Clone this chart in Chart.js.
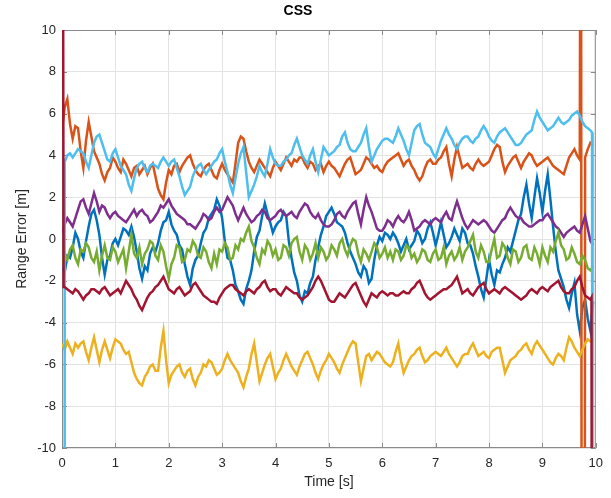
<!DOCTYPE html>
<html>
<head>
<meta charset="utf-8">
<script src="https://cdn.jsdelivr.net/npm/chart.js@4.4.1/dist/chart.umd.min.js"></script>
<style>
  body { margin: 0; background: #fff; }
  #wrap { width: 611px; height: 498px; }
</style>
</head>
<body>
<div id="wrap"><canvas id="range-error-chart" width="611" height="498"></canvas></div>
<script>
// sample times [s], one row per second
const time = [
  0, 0.05, 0.1, 0.15, 0.2, 0.25, 0.3, 0.35, 0.4, 0.45, 0.5, 0.55, 0.6, 0.65, 0.7, 0.75, 0.8, 0.85, 0.9, 0.95,
  1, 1.05, 1.1, 1.15, 1.2, 1.25, 1.3, 1.35, 1.4, 1.45, 1.5, 1.55, 1.6, 1.65, 1.7, 1.75, 1.8, 1.85, 1.9, 1.95,
  2, 2.05, 2.1, 2.15, 2.2, 2.25, 2.3, 2.35, 2.4, 2.45, 2.5, 2.55, 2.6, 2.65, 2.7, 2.75, 2.8, 2.85, 2.9, 2.95,
  3, 3.05, 3.1, 3.15, 3.2, 3.25, 3.3, 3.35, 3.4, 3.45, 3.5, 3.55, 3.6, 3.65, 3.7, 3.75, 3.8, 3.85, 3.9, 3.95,
  4, 4.05, 4.1, 4.15, 4.2, 4.25, 4.3, 4.35, 4.4, 4.45, 4.5, 4.55, 4.6, 4.65, 4.7, 4.75, 4.8, 4.85, 4.9, 4.95,
  5, 5.05, 5.1, 5.15, 5.2, 5.25, 5.3, 5.35, 5.4, 5.45, 5.5, 5.55, 5.6, 5.65, 5.7, 5.75, 5.8, 5.85, 5.9, 5.95,
  6, 6.05, 6.1, 6.15, 6.2, 6.25, 6.3, 6.35, 6.4, 6.45, 6.5, 6.55, 6.6, 6.65, 6.7, 6.75, 6.8, 6.85, 6.9, 6.95,
  7, 7.05, 7.1, 7.15, 7.2, 7.25, 7.3, 7.35, 7.4, 7.45, 7.5, 7.55, 7.6, 7.65, 7.7, 7.75, 7.8, 7.85, 7.9, 7.95,
  8, 8.05, 8.1, 8.15, 8.2, 8.25, 8.3, 8.35, 8.4, 8.45, 8.5, 8.55, 8.6, 8.65, 8.7, 8.75, 8.8, 8.85, 8.9, 8.95,
  9, 9.05, 9.1, 9.15, 9.2, 9.25, 9.3, 9.35, 9.4, 9.45, 9.5, 9.55, 9.6, 9.65, 9.7, 9.75, 9.8, 9.85, 9.9, 9.95,
  10
];

// range error per track [m]
const blueErr = [
  -1.4, -1.6, -0.8, -0.9, -0.4, 0.3, 0.0, -0.6, -0.9, -0.1, 0.6, 1.2, 1.4, 0.9, 0.2, -0.9, -1.7, -1.0, -0.8, -0.2,
  0.0, -0.3, 0.1, 0.5, 0.4, 0.2, 0.6, 0.1, -0.6, -1.4, -1.9, -1.3, -1.5, -0.7, -0.4, -0.6, -0.2, 0.4, 0.8, 0.9,
  1.3, 0.7, 0.4, 0.2, -0.3, -0.5, -1.2, -1.8, -2.2, -1.4, -1.0, -0.8, -0.2, 0.3, 0.5, 1.0, 1.2, 1.4, 1.9, 1.6,
  1.0, -0.1, -0.9, -1.0, -1.5, -2.2, -2.5, -2.9, -3.1, -2.4, -2.0, -1.5, -0.6, 0.1, 0.4, 1.1, 1.7, 1.2, 0.8, 0.3,
  0.6, 0.8, 0.9, 1.3, 1.1, -0.1, -0.9, -1.6, -2.0, -2.7, -3.0, -2.5, -2.6, -2.1, -1.8, -1.0, -0.4, 0.2, 0.6, 1.1,
  1.3, 1.5, 1.2, 0.8, 0.7, 0.6, 0.3, -0.2, -0.6, -0.9, -1.2, -1.6, -1.8, -1.3, -1.5, -2.1, -1.9, -1.0, -0.3, 0.1,
  -0.1, 0.3, 0.2, 0.0, 0.3, 0.1, -0.2, -0.6, -0.3, 0.0, -0.5, -0.3, -0.1, 0.4, 0.2, -0.2, 0.0, 0.5, 0.8, 0.3,
  -0.3, 0.2, 0.8, 0.2, -0.4, -0.2, 0.1, 0.5, 0.2, -0.1, 0.5, 0.3, -0.2, -0.3, -0.7, -1.3, -1.8, -2.4, -2.8, -1.9,
  -1.0, -1.7, -2.2, -1.5, -1.6, -1.2, -0.9, -0.4, -0.6, -0.1, 0.4, 0.9, 1.2, 2.0, 2.6, 1.7, 1.0, 2.0, 2.9, 2.2,
  1.3, 2.3, 3.1, 1.9, 0.6, -0.6, -1.5, -1.9, -2.3, -2.9, -3.3, -2.6, -2.1, -3.6, -4.4, -3.3, -2.9, -3.8, -4.4, -3.0,
  null
];
const orangeErr = [
  5.2, 6.3, 6.7, 5.5, 4.8, 5.4, 5.3, 4.2, 3.4, 4.7, 5.6, 4.9, 4.2, 3.9, 3.6, 3.1, 2.8, 3.2, 3.4, 3.9,
  3.7, 3.4, 3.2, 3.8, 3.6, 3.3, 3.0, 3.4, 3.5, 3.1, 3.3, 3.5, 3.1, 3.4, 3.6, 3.0, 2.4, 2.1, 1.9, 2.7,
  3.3, 3.1, 3.5, 3.6, 3.2, 3.5, 3.7, 3.9, 4.0, 3.6, 3.3, 3.1, 3.0, 3.3, 3.5, 3.6, 3.3, 3.0, 2.9, 3.3,
  3.6, 3.3, 3.1, 2.9, 2.7, 3.6, 4.6, 4.9, 4.8, 4.2, 3.7, 3.4, 3.2, 3.5, 3.8, 3.6, 3.4, 3.2, 3.0, 3.4,
  3.7, 3.5, 3.3, 3.6, 3.9, 3.7, 3.5, 3.8, 3.7, 3.9, 3.9, 3.6, 3.4, 3.7, 3.6, 3.3, 3.5, 3.6, 3.2, 3.5,
  3.7, 3.5, 3.4, 3.2, 3.0, 3.3, 3.6, 3.8, 3.9, 3.5, 3.1, 3.2, 3.3, 3.6, 3.9, 3.8, 3.6, 3.4, 3.5, 3.3,
  3.2, 3.5, 3.7, 3.8, 3.9, 4.0, 4.1, 3.8, 3.5, 3.7, 3.8, 3.5, 3.3, 3.0, 2.8, 3.0, 3.4, 3.7, 3.8, 3.6,
  3.6, 3.8, 3.9, 4.2, 4.4, 3.6, 3.0, 3.8, 4.4, 3.9, 3.4, 3.5, 3.6, 3.4, 3.3, 3.6, 3.8, 3.6, 3.5, 3.6,
  3.7, 4.0, 4.3, 4.5, 4.4, 3.7, 3.2, 3.5, 3.7, 3.9, 4.0, 3.7, 3.4, 3.7, 3.9, 4.1, 4.0, 3.7, 3.5, 3.6,
  3.7, 3.8, 3.9, 3.7, 3.5, 3.4, 3.3, 3.2, 3.1, 3.5, 3.9, 4.1, 4.3, 4.0, 3.8, null, 3.9, 4.3, 4.6, 4.5,
  null
];
const yellowErr = [
  -5.0, -5.3, -4.9, -5.2, -5.5, -5.0, -5.2, -5.0, -4.9, -5.4, -5.8, -5.2, -4.7, -5.3, -5.9, -5.3, -4.9, -5.3, -5.7, -5.2,
  -4.8, -4.9, -5.0, -5.3, -5.5, -5.4, -5.9, -6.4, -6.7, -6.9, -7.0, -6.6, -6.4, -6.1, -6.0, -6.3, -6.3, -5.2, -4.4, -5.8,
  -6.9, -6.5, -6.3, -6.1, -6.0, -6.4, -6.6, -6.3, -6.2, -6.7, -7.0, -6.6, -6.4, -6.0, -6.1, -5.8, -5.9, -6.2, -6.5, -6.4,
  -6.2, -5.8, -5.5, -5.8, -6.0, -6.2, -6.4, -6.8, -7.1, -6.6, -6.2, -5.5, -5.0, -5.9, -6.8, -6.4, -6.0, -5.7, -5.5, -6.1,
  -6.7, -6.4, -6.2, -5.8, -5.5, -5.8, -6.1, -6.3, -6.5, -6.1, -5.8, -5.5, -5.4, -5.7, -6.0, -6.4, -6.7, -6.3, -6.0, -5.8,
  -5.5, -5.7, -5.9, -6.2, -6.4, -6.0, -5.7, -5.4, -5.1, -4.9, -5.0, -5.9, -6.8, -6.2, -5.6, -5.5, -5.8, -5.6, -5.4, -5.5,
  -5.7, -5.9, -6.0, -6.1, -5.9, -5.4, -5.0, -5.8, -6.4, -6.1, -5.8, -5.6, -5.5, -5.3, -5.2, -5.6, -5.9, -5.8, -5.6, -5.5,
  -5.4, -5.5, -5.6, -5.4, -5.2, -5.5, -5.7, -5.9, -6.1, -5.9, -5.6, -5.5, -5.5, -5.2, -5.0, -5.3, -5.6, -5.5, -5.4, -5.6,
  -5.7, -5.4, -5.3, -5.2, -5.2, -5.8, -6.4, -6.1, -5.8, -5.7, -5.6, -5.4, -5.3, -5.1, -5.0, -5.3, -5.5, -5.1, -4.9, -5.1,
  -5.3, -5.5, -5.7, -5.9, -6.0, -5.7, -5.5, -5.6, -5.8, -5.2, -4.7, -4.9, -5.2, -5.4, -5.6, -5.3, -5.0, -4.8, -4.9, -4.8,
  null
];
const purpleErr = [
  0.3, 0.7, 1.0, 0.8, 0.6, 1.0, 1.4, 1.8, 1.9, 1.5, 1.2, 1.7, 2.2, 1.8, 1.3, 1.6, 1.5, 1.2, 1.0, 1.2,
  1.3, 1.1, 1.0, 0.9, 0.8, 1.0, 1.2, 1.4, 1.1, 1.3, 1.4, 1.2, 1.1, 0.8, 0.9, 1.1, 1.3, 1.6, 1.5, 1.7,
  1.9, 1.6, 1.4, 1.2, 1.1, 1.0, 0.9, 0.7, 0.7, 0.6, 0.5, 0.7, 0.9, 1.2, 1.1, 0.9, 1.0, 1.3, 1.5, 1.3,
  1.4, 1.7, 2.0, 1.8, 1.6, 1.2, 0.9, 1.2, 1.5, 1.2, 1.0, 0.8, 0.9, 1.1, 1.2, 1.4, 1.3, 1.0, 0.9, 1.0,
  1.1, 1.3, 1.4, 1.2, 1.1, 1.2, 1.3, 1.1, 1.0, 1.3, 1.5, 1.7, 1.6, 1.3, 1.1, 1.0, 1.2, 0.9, 0.7, 0.6,
  0.6, 0.7, 0.9, 1.2, 1.3, 1.1, 1.0, 1.3, 1.5, 1.7, 1.8, 1.2, 0.7, 1.4, 2.0, 1.6, 1.3, 0.9, 0.5, 0.4,
  0.4, 0.6, 0.9, 0.8, 0.6, 0.9, 1.1, 0.9, 0.8, 1.0, 1.3, 0.9, 0.4, 0.5, 0.6, 0.8, 0.9, 0.8, 0.7, 0.9,
  1.0, 0.9, 0.8, 1.1, 1.3, 1.0, 0.9, 1.4, 1.8, 1.4, 1.0, 0.7, 0.5, 0.7, 0.9, 0.8, 0.7, 0.8, 0.9, 0.8,
  0.6, 0.4, 0.3, 0.5, 0.7, 0.9, 1.0, 1.3, 1.5, 1.3, 1.1, 1.0, 1.0, 0.8, 0.7, 0.6, 0.6, 0.7, 0.8, 0.9,
  0.9, 1.1, 1.2, 1.0, 0.8, 0.6, 0.5, 0.3, 0.1, 0.3, 0.4, 0.5, 0.6, 0.4, 0.3, 0.7, 1.1, 0.5, -0.1, -0.3,
  null
];
const greenErr = [
  -1.2, -0.7, -1.0, -0.5, -0.3, -0.9, -1.2, -0.5, -0.6, -0.2, -0.4, -0.9, -1.1, -0.6, -1.5, -0.8, -0.3, -0.9, -1.0, -0.4,
  -0.6, -1.1, -0.8, -0.5, -1.4, -0.6, 0.2, -0.7, -0.9, -0.4, -1.2, -0.7, -0.5, -0.1, -0.2, -0.8, -1.0, -0.3, -0.6, -1.3,
  -1.9, -1.2, -0.9, -0.3, -0.4, -1.1, -1.0, -0.5, -0.6, -0.1, -0.3, -0.8, -0.9, -0.4, -0.6, -1.1, -1.4, -0.7, -1.2, -0.5,
  -0.6, -0.2, -0.4, -1.0, -0.9, -0.3, -0.5, 0.0, -0.1, 0.3, 0.6, -0.1, -0.4, -0.9, -1.2, -0.5, -0.7, -0.1, -0.3, -0.8,
  -0.5, -1.0, -0.9, -0.3, -0.4, -0.8, -0.2, 0.0, 0.1, -0.6, -1.0, -0.3, -0.5, -1.0, -0.7, -0.2, -0.9, -0.4, -0.6, -1.0,
  -0.8, -0.3, -0.5, -0.8, -0.2, 0.0, -0.5, -0.8, -0.3, 0.0, -0.1, -0.7, -1.1, -0.5, -0.7, -1.0, -0.6, -0.2, -0.4, -0.9,
  -0.7, -0.4, -0.9, -0.6, -1.0, -0.5, -0.6, -1.0, -0.8, -0.3, -0.4, -0.9, -0.7, -1.1, -0.9, -0.5, -0.6, -1.0, -1.1, -0.7,
  -0.5, -1.0, -0.9, -0.4, -1.2, -0.8, -0.6, -1.0, -0.8, -0.4, -1.0, -0.6, -0.4, -0.1, 0.2, -0.6, -0.9, -0.3, -0.6, -1.1,
  -1.1, -0.5, 0.0, -0.9, -0.8, -0.2, -0.4, -0.9, -1.2, -0.5, -0.6, -1.1, -0.9, -0.4, -0.3, -0.9, -1.0, -0.4, -0.7, -1.2,
  -0.4, -0.8, -1.1, -0.4, -0.6, -0.1, 0.3, -0.3, -0.5, -1.0, -0.9, -0.4, -0.7, -1.1, -1.2, -0.8, -1.0, -1.4, -1.5, -1.3,
  null
];
const lightBlueErr = [
  null, 3.7, 4.0, 4.1, 3.9, 4.1, 4.3, 4.2, 4.1, 3.7, 3.4, 4.0, 4.6, 4.9, 5.0, 4.6, 4.2, 3.8, 3.7, 4.1,
  4.3, 3.9, 3.5, 3.3, 3.1, 2.6, 2.3, 2.9, 3.4, 3.6, 3.7, 3.4, 3.2, 3.5, 3.6, 3.5, 3.4, 3.7, 3.9, 3.7,
  3.5, 3.7, 3.8, 3.4, 3.0, 2.5, 2.1, 2.3, 2.5, 3.0, 3.3, 3.5, 3.6, 3.3, 3.1, 3.3, 3.5, 3.7, 3.8, 4.1,
  4.3, 3.7, 3.2, 2.6, 2.2, 2.9, 3.6, 4.1, 4.4, 3.2, 2.0, 2.3, 2.6, 3.0, 3.5, 3.2, 3.0, 3.6, 4.3, 3.9,
  3.6, 3.5, 3.5, 3.7, 3.8, 4.0, 4.1, 4.5, 4.8, 4.4, 4.0, 3.8, 3.6, 4.0, 4.3, 3.7, 3.2, 3.8, 4.4, 4.2,
  4.0, 4.1, 4.2, 4.4, 4.5, 4.9, 5.1, 4.6, 4.3, 4.2, 4.2, 4.4, 4.6, 5.0, 5.3, 4.4, 3.7, 4.0, 4.3, 4.5,
  4.7, 4.8, 4.8, 4.7, 4.6, 4.9, 5.3, 5.0, 4.7, 4.3, 4.0, 4.6, 5.2, 5.4, 5.5, 5.0, 4.6, 4.5, 4.4, 4.1,
  3.9, 4.3, 4.7, 5.0, 5.3, 5.0, 4.8, 4.5, 4.3, 4.6, 4.8, 4.9, 4.9, 4.7, 4.6, 4.8, 4.9, 5.2, 5.4, 5.2,
  4.9, 4.7, 4.6, 4.9, 5.1, 5.2, 5.3, 5.1, 4.9, 4.7, 4.5, 4.5, 4.6, 4.8, 5.0, 5.1, 5.2, 5.7, 6.1, 5.8,
  5.6, 5.4, 5.2, 5.3, 5.4, 5.6, 5.8, 5.6, 5.5, 5.6, 5.7, 5.9, 6.0, 6.1, 5.9, 5.6, 5.4, 5.3, 5.2, null,
  null
];
const darkRedErr = [
  null, -2.3, -2.4, -2.5, -2.6, -2.4, -2.5, -2.7, -2.9, -2.7, -2.6, -2.4, -2.4, -2.5, -2.6, -2.4, -2.3, -2.5, -2.7, -2.6,
  -2.5, -2.4, -2.6, -2.3, -2.0, -2.2, -2.4, -2.7, -2.9, -3.2, -3.4, -3.1, -2.8, -2.6, -2.5, -2.3, -2.2, -2.0, -1.8, -2.1,
  -2.4, -2.5, -2.6, -2.4, -2.3, -2.5, -2.7, -2.6, -2.5, -2.2, -2.1, -2.3, -2.5, -2.7, -2.8, -2.9, -3.0, -3.0, -3.1, -2.8,
  -2.6, -2.4, -2.3, -2.2, -2.2, -2.4, -2.5, -2.6, -2.7, -2.5, -2.4, -2.5, -2.6, -2.4, -2.3, -2.1, -2.0, -2.3, -2.5, -2.4,
  -2.4, -2.6, -2.7, -2.5, -2.3, -2.4, -2.5, -2.6, -2.6, -2.8, -2.9, -2.8, -2.7, -2.5, -2.3, -2.0, -1.8, -2.0, -2.3, -2.6,
  -2.9, -3.0, -3.0, -2.8, -2.6, -2.7, -2.8, -2.6, -2.4, -2.2, -2.1, -2.4, -2.7, -3.0, -3.2, -2.9, -2.6, -2.7, -2.8, -2.6,
  -2.5, -2.6, -2.7, -2.6, -2.6, -2.7, -2.7, -2.6, -2.5, -2.6, -2.6, -2.4, -2.3, -2.1, -2.0, -2.3, -2.6, -2.8, -2.9, -2.8,
  -2.7, -2.6, -2.5, -2.4, -2.4, -2.3, -2.2, -2.0, -1.8, -2.2, -2.6, -2.5, -2.4, -2.6, -2.7, -2.5, -2.3, -2.2, -2.1, -2.4,
  -2.6, -2.5, -2.4, -2.5, -2.6, -2.4, -2.3, -2.4, -2.5, -2.6, -2.7, -2.8, -2.9, -2.8, -2.7, -2.5, -2.4, -2.5, -2.6, -2.4,
  -2.3, -2.4, -2.5, -2.3, -2.2, -2.1, -2.0, -2.3, -2.5, -2.6, -2.6, -2.4, -2.3, -2.0, -1.8, -2.3, -2.7, -2.8, -2.9, null,
  null
];

// off-grid samples where a track jumps out of range: [time, error]
const orangeJump = [[9.72, 30], [9.74, -30], [9.79, -30]];
const lightBlueHead = [[0.04, -30]];
const lightBlueTail = [[9.93, 5.1], [9.94, -30]];
const darkRedHead = [[0.01, 30], [0.03, -2.3]];
const darkRedTail = [[9.92, -2.8], [9.93, -30]];

const yTicks = [-10, -8, -6, -4, -2, 0, 2, 4, 6, 8, 10];
const xTicks = [0, 1, 2, 3, 4, 5, 6, 7, 8, 9, 10];

// grid samples plus jump samples; a null ends a stretch so a jump stays vertical
function toPoints(values, ...extras) {
  const pts = time
    .map((t, i) => ({ x: t, y: values[i] }))
    .filter((p) => p.y !== null);
  extras.forEach((list) => list.forEach(([x, y]) => pts.push({ x, y })));
  return pts.sort((a, b) => a.x - b.x);
}

const tracks = [
  { data: toPoints(blueErr), color: "#0072BD" },
  { data: toPoints(orangeErr, orangeJump), color: "#D95319" },
  { data: toPoints(yellowErr), color: "#EDB120" },
  { data: toPoints(purpleErr), color: "#7E2F8E" },
  { data: toPoints(greenErr), color: "#77AC30" },
  { data: toPoints(lightBlueErr, lightBlueHead, lightBlueTail), color: "#4DBEEE" },
  { data: toPoints(darkRedErr, darkRedHead, darkRedTail), color: "#A2142F" },
];

const FONT = "'Liberation Sans', Arial, Helvetica, sans-serif";
const AXIS_COLOR = "#8a8a8a";

// MATLAB-style box with inward tick marks
const axesBox = {
  id: "axesBox",
  beforeDatasetsDraw(chart) {
    const { ctx, chartArea: a, scales } = chart;
    ctx.save();
    ctx.strokeStyle = AXIS_COLOR;
    ctx.lineWidth = 1;
    ctx.beginPath();
    ctx.rect(a.left + 0.5, a.top + 0.5, a.right - a.left - 1, a.bottom - a.top - 1);
    xTicks.forEach((v) => {
      const px = Math.round(scales.x.getPixelForValue(v)) + 0.5;
      ctx.moveTo(px, a.bottom);
      ctx.lineTo(px, a.bottom - 5);
      ctx.moveTo(px, a.top);
      ctx.lineTo(px, a.top + 5);
    });
    yTicks.forEach((v) => {
      const py = Math.round(scales.y.getPixelForValue(v)) + 0.5;
      ctx.moveTo(a.left, py);
      ctx.lineTo(a.left + 5, py);
      ctx.moveTo(a.right, py);
      ctx.lineTo(a.right - 5, py);
    });
    ctx.stroke();
    ctx.restore();
  },
};

new Chart(document.getElementById("range-error-chart").getContext("2d"), {
  type: "line",
  data: {
    datasets: tracks.map((tr, i) => ({
      data: tr.data,
      borderColor: tr.color,
      backgroundColor: tr.color,
      borderWidth: 2.5,
      pointRadius: 0,
      tension: 0,
      fill: false,
      order: tracks.length - i,
    })),
  },
  options: {
    responsive: false,
    animation: false,
    layout: { padding: { left: 0, right: 15, top: 0, bottom: 0 } },
    plugins: {
      legend: { display: false },
      tooltip: { enabled: false },
      title: {
        display: true,
        text: "CSS",
        color: "#000",
        font: { family: FONT, size: 14, weight: "bold" },
        padding: { top: 3, bottom: 10.2 },
      },
    },
    scales: {
      x: {
        type: "linear",
        min: 0,
        max: 10,
        afterFit: (s) => { s.height = 50; },
        afterBuildTicks: (s) => { s.ticks = xTicks.map((v) => ({ value: v })); },
        grid: { color: "#e3e3e3", drawTicks: false },
        border: { display: false },
        ticks: { color: "#262626", padding: 8, font: { family: FONT, size: 13 } },
        title: {
          display: true,
          text: "Time [s]",
          color: "#262626",
          font: { family: FONT, size: 14 },
          padding: { top: 0, bottom: 7 },
        },
      },
      y: {
        min: -10,
        max: 10,
        afterFit: (s) => { s.width = 62; },
        afterBuildTicks: (s) => { s.ticks = yTicks.map((v) => ({ value: v })); },
        grid: { color: "#e3e3e3", drawTicks: false },
        border: { display: false },
        ticks: { color: "#262626", padding: 6, font: { family: FONT, size: 13 } },
        title: {
          display: true,
          text: "Range Error [m]",
          color: "#262626",
          font: { family: FONT, size: 14 },
          padding: { top: 13.6, bottom: 0 },
        },
      },
    },
  },
  plugins: [axesBox],
});
</script>
</body>
</html>
